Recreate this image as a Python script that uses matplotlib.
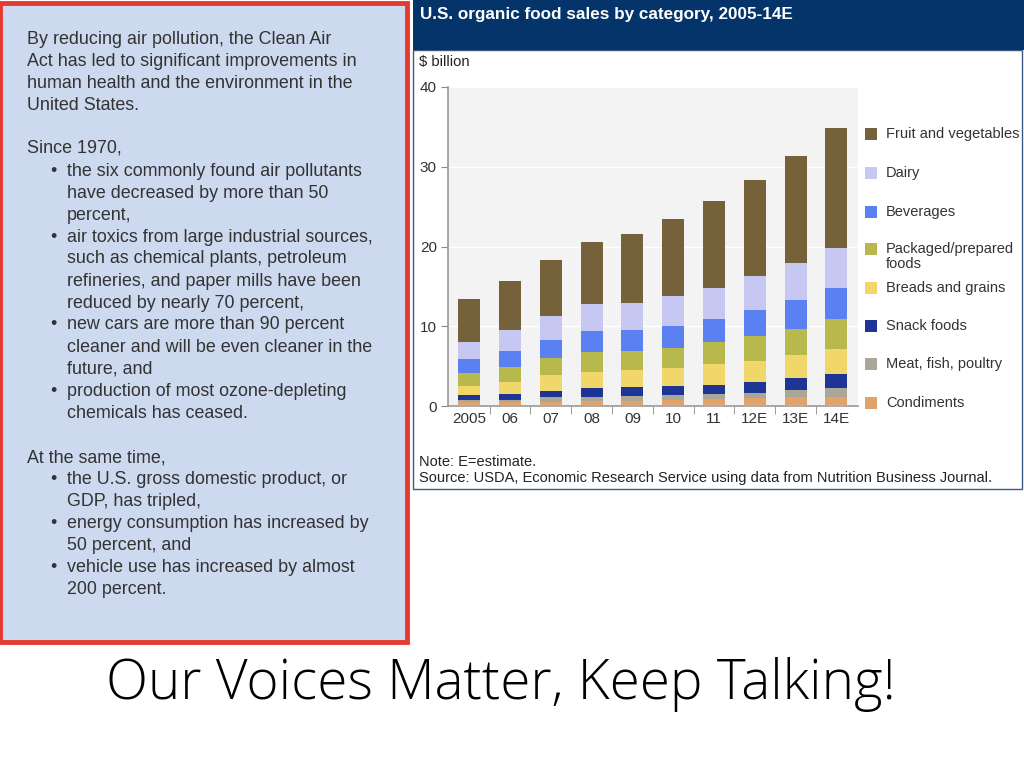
import matplotlib
matplotlib.use("Agg")
import matplotlib.pyplot as plt
from matplotlib.patches import Rectangle
import numpy as np

plt.rcParams['font.family'] = ['Liberation Sans', 'DejaVu Sans']

# data ($ billion), bottom segment first
years = ["2005", "06", "07", "08", "09", "10", "11", "12E", "13E", "14E"]
categories = ["Condiments", "Meat, fish, poultry", "Snack foods", "Breads and grains",
              "Packaged/prepared\nfoods", "Beverages", "Dairy", "Fruit and vegetables"]
condiments = [0.45, 0.5, 0.55, 0.65, 0.65, 0.75, 0.85, 1.05, 1.15, 1.15]
meat = [0.25, 0.25, 0.55, 0.5, 0.6, 0.65, 0.7, 0.6, 0.85, 1.15]
snack = [0.65, 0.7, 0.75, 1.05, 1.1, 1.1, 1.1, 1.4, 1.55, 1.7]
breads = [1.15, 1.55, 2.05, 2.1, 2.15, 2.3, 2.6, 2.65, 2.9, 3.2]
packaged = [1.6, 1.9, 2.1, 2.45, 2.45, 2.5, 2.75, 3.05, 3.2, 3.65]
beverages = [1.75, 2.0, 2.3, 2.6, 2.55, 2.7, 2.9, 3.25, 3.6, 3.9]
dairy = [2.15, 2.6, 3.0, 3.4, 3.4, 3.8, 3.9, 4.3, 4.7, 5.0]
fruit_veg = [5.4, 6.15, 6.95, 7.8, 8.7, 9.65, 10.9, 12.05, 13.45, 15.05]
colors = ["#e0a36a", "#a9a797", "#1f3596", "#f1d76a", "#b8b94c", "#5b80f1", "#c6c8f2", "#76623a"]

W, H = 1024, 768
fig = plt.figure(figsize=(W / 100, H / 100), dpi=100)
fig.patch.set_facecolor("white")


def px_axes(x0, y0, x1, y1):
    return fig.add_axes([x0 / W, 1 - y1 / H, (x1 - x0) / W, (y1 - y0) / H])


def ftext(x, y, s, **kw):
    fig.text(x / W, 1 - y / H, s, **kw)


# left text panel
fig.patches.append(Rectangle((0, 1 - 642 / H), 407 / W, 639 / H, transform=fig.transFigure,
                             facecolor="#cdd9ef", edgecolor="#e53a30", linewidth=3.5, zorder=-2))

txt = "#333333"
fs = 12.9
lines = [
    (27, 39, "By reducing air pollution, the Clean Air", False),
    (27, 61, "Act has led to significant improvements in", False),
    (27, 83, "human health and the environment in the", False),
    (27, 105, "United States.", False),
    (27, 148, "Since 1970,", False),
    (67, 171, "the six commonly found air pollutants", True),
    (67, 193, "have decreased by more than 50", False),
    (67, 215, "percent,", False),
    (67, 237, "air toxics from large industrial sources,", True),
    (67, 259, "such as chemical plants, petroleum", False),
    (67, 281, "refineries, and paper mills have been", False),
    (67, 303, "reduced by nearly 70 percent,", False),
    (67, 325, "new cars are more than 90 percent", True),
    (67, 347, "cleaner and will be even cleaner in the", False),
    (67, 369, "future, and", False),
    (67, 391, "production of most ozone-depleting", True),
    (67, 413, "chemicals has ceased.", False),
    (27, 458, "At the same time,", False),
    (67, 480, "the U.S. gross domestic product, or", True),
    (67, 502, "GDP, has tripled,", False),
    (67, 524, "energy consumption has increased by", True),
    (67, 546, "50 percent, and", False),
    (67, 568, "vehicle use has increased by almost", True),
    (67, 590, "200 percent.", False),
]
for x, y, s, bullet in lines:
    ftext(x, y, s, fontsize=fs, color=txt, va="center", ha="left")
    if bullet:
        ftext(50, y, "\u2022", fontsize=fs, color=txt, va="center", ha="left")

# chart frame and header (behind the axes)
fig.patches.append(Rectangle((413 / W, 1 - 489 / H), 609 / W, 439 / H, transform=fig.transFigure,
                             facecolor="white", edgecolor="#3a5a80", linewidth=1, zorder=-2))
fig.patches.append(Rectangle((413 / W, 1 - 50 / H), 611 / W, 50 / H, transform=fig.transFigure,
                             facecolor="#04346a", edgecolor="none", zorder=-1))
ftext(420, 15, "U.S. organic food sales by category, 2005-14E", fontsize=12.3, color="white",
      fontweight="bold", va="center", ha="left")
ftext(419, 62, "$ billion", fontsize=10.6, color="#222222", va="center", ha="left")
ftext(419, 462, "Note: E=estimate.", fontsize=10.5, color="#222222", va="center", ha="left")
ftext(419, 478, "Source: USDA, Economic Research Service using data from Nutrition Business Journal.",
      fontsize=10.5, color="#222222", va="center", ha="left")

ax = px_axes(448, 87, 858, 406)
ax.set_facecolor("#f3f3f3")
x = np.arange(len(years))
series = [condiments, meat, snack, breads, packaged, beverages, dairy, fruit_veg]
bottom = np.zeros(len(years))
for vals, col in zip(series, colors):
    ax.bar(x, vals, bottom=bottom, width=0.54, color=col, zorder=3)
    bottom += np.array(vals)

ax.set_xlim(-0.52, 9.53)
ax.set_ylim(0, 40)
ax.set_yticks([0, 10, 20, 30, 40])
ax.yaxis.grid(True, color="white", linewidth=1, zorder=1)
ax.set_xticks(x)
ax.set_xticklabels(years)
ax.set_xticks(np.arange(0.5, 9.5, 1), minor=True)
ax.tick_params(axis="x", which="major", length=0, labelsize=11, colors="#333333", pad=4)
ax.tick_params(axis="x", which="minor", length=6, color="#888888")
ax.tick_params(axis="y", length=5, color="#888888", labelsize=11, labelcolor="#333333", pad=3)
for s in ["top", "right"]:
    ax.spines[s].set_visible(False)
for s in ["left", "bottom"]:
    ax.spines[s].set_color("#999999")
    ax.spines[s].set_linewidth(1.2)

# legend, top entry first
leg_y = [134, 173, 212, 249, 288, 326, 364, 403]
for yy, name, col in zip(leg_y, categories[::-1], colors[::-1]):
    fig.patches.append(Rectangle((865 / W, 1 - (yy + 6) / H), 12 / W, 12 / H,
                                 transform=fig.transFigure, facecolor=col, edgecolor="none"))
    ftext(886, yy - 7, name, fontsize=10.5, color="#333333", va="top", ha="left",
          linespacing=1.05)

ftext(501, 685, "Our Voices Matter, Keep Talking!", fontsize=39.5, color="black",
      family=["Open Sans", "DejaVu Sans"], fontweight="light", va="center", ha="center")

fig.savefig("out.png", dpi=100, facecolor="white")
